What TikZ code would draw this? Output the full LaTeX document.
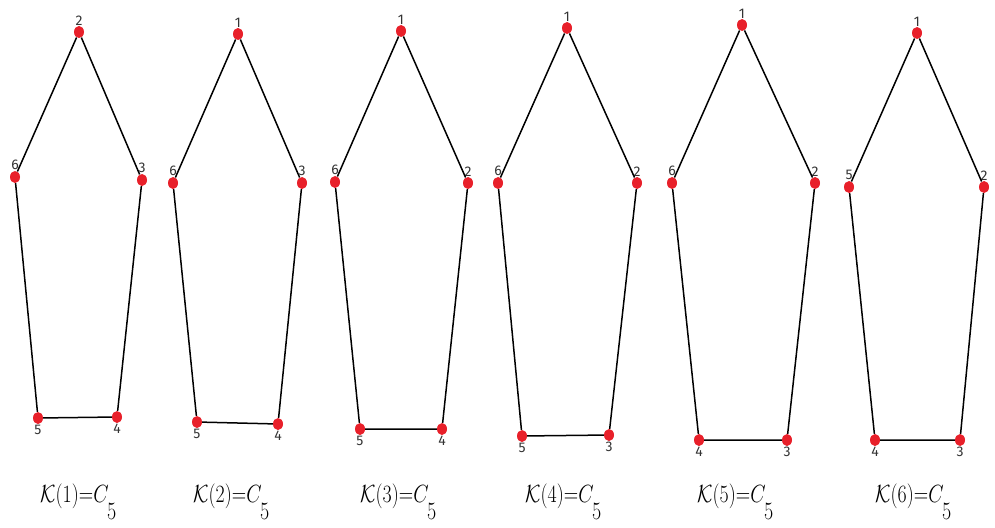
\documentclass[tikz,border=0pt]{standalone}
\usepackage{fontspec}
\setsansfont{Fira Sans}
\usetikzlibrary{shapes.geometric}
\definecolor{dotred}{HTML}{E8202A}
\definecolor{numgray}{HTML}{333333}
\newcommand{\kcapt}[1]{\scalebox{0.8}[1]{$\mathcal{K}(#1)$=$C$\kern-2pt\raisebox{-17pt}{5}}}

\begin{document}
\begin{tikzpicture}[
  x=1pt, y=-1pt,
  vtx/.style={ellipse, fill=dotred, inner sep=0pt, minimum width=10pt, minimum height=12pt},
  num/.style={font=\sffamily\fontsize{14}{14}\selectfont, text=numgray, inner sep=0.5pt},
  every label/.style={num},
  label distance=0pt,
  edge/.style={line width=1.5pt, draw=black},
  kcap/.style={font=\fontsize{25}{28}\selectfont, anchor=base west, inner sep=0pt},
]
\useasboundingbox (0,0) rectangle (995,527);

% K(1)
\node[vtx, label={above:2}] (a1) at (79,32) {};
\node[vtx, label={above:3}] (a2) at (142,180) {};
\node[vtx, label={below:4}] (a3) at (117,417) {};
\node[vtx, label={below:5}] (a4) at (38,418) {};
\node[vtx, label={above:6}] (a5) at (15,177) {};
\draw[edge] (a1) -- (a2) -- (a3) -- (a4) -- (a5) -- (a1);
\node[kcap] (k1) at (40,502) {\kcapt{1}};

% K(2)
\node[vtx, label={above:1}] (b1) at (238,34) {};
\node[vtx, label={above:3}] (b2) at (302,183) {};
\node[vtx, label={below:4}] (b3) at (278,424) {};
\node[vtx, label={below:5}] (b4) at (197,422) {};
\node[vtx, label={above:6}] (b5) at (173,183) {};
\draw[edge] (b1) -- (b2) -- (b3) -- (b4) -- (b5) -- (b1);
\node[kcap] (k2) at (193,502) {\kcapt{2}};

% K(3)
\node[vtx, label={above:1}] (c1) at (401,31) {};
\node[vtx, label={above:2}] (c2) at (468,183) {};
\node[vtx, label={below:4}] (c3) at (442,429) {};
\node[vtx, label={below:5}] (c4) at (360,429) {};
\node[vtx, label={above:6}] (c5) at (335,182) {};
\draw[edge] (c1) -- (c2) -- (c3) -- (c4) -- (c5) -- (c1);
\node[kcap] (k3) at (360,502) {\kcapt{3}};

% K(4)
\node[vtx, label={above:1}] (d1) at (567,28) {};
\node[vtx, label={above:2}] (d2) at (637,183) {};
\node[vtx, label={below:3}] (d3) at (609,435) {};
\node[vtx, label={below:5}] (d4) at (522,436) {};
\node[vtx, label={above:6}] (d5) at (498,183) {};
\draw[edge] (d1) -- (d2) -- (d3) -- (d4) -- (d5) -- (d1);
\node[kcap] (k4) at (525,502) {\kcapt{4}};

% K(5)
\node[vtx, label={above:1}] (e1) at (742,25) {};
\node[vtx, label={above:2}] (e2) at (815,183) {};
\node[vtx, label={below:3}] (e3) at (787,440) {};
\node[vtx, label={below:4}] (e4) at (699,440) {};
\node[vtx, label={above:6}] (e5) at (672,183) {};
\draw[edge] (e1) -- (e2) -- (e3) -- (e4) -- (e5) -- (e1);
\node[kcap] (k5) at (697,502) {\kcapt{5}};

% K(6)
\node[vtx, label={above:1}] (f1) at (917,33) {};
\node[vtx, label={above:2}] (f2) at (984,187) {};
\node[vtx, label={below:3}] (f3) at (960,440) {};
\node[vtx, label={below:4}] (f4) at (875,440) {};
\node[vtx, label={above:5}] (f5) at (849,187) {};
\draw[edge] (f1) -- (f2) -- (f3) -- (f4) -- (f5) -- (f1);
\node[kcap] (k6) at (875,502) {\kcapt{6}};
\end{tikzpicture}
\end{document}
